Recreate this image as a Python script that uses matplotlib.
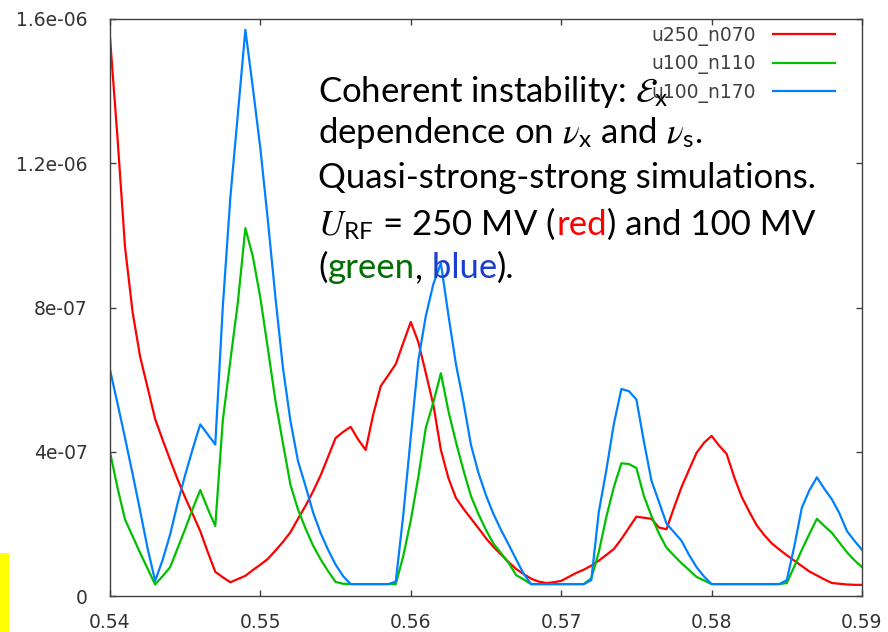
import matplotlib
matplotlib.use("Agg")
import matplotlib.pyplot as plt
from matplotlib.patches import Rectangle
import numpy as np

# horizontal tune scan, step 0.0005
nu_x = np.linspace(0.54, 0.59, 101)

# emittance growth, in units of 1e-7
u250_n070 = [15.48, 12.70, 9.67, 7.88, 6.64, 5.78, 4.91, 4.33, 3.77, 3.23,
             2.73, 2.27, 1.80, 1.22, 0.67, 0.52, 0.38, 0.47, 0.56, 0.72,
             0.87, 1.03, 1.26, 1.50, 1.77, 2.14, 2.50, 2.90, 3.34, 3.86,
             4.38, 4.55, 4.69, 4.34, 4.05, 5.03, 5.82, 6.12, 6.43, 7.02,
             7.60, 7.04, 6.18, 5.30, 4.05, 3.27, 2.72, 2.42, 2.15, 1.88,
             1.60, 1.36, 1.15, 0.94, 0.75, 0.61, 0.48, 0.40, 0.36, 0.38,
             0.42, 0.53, 0.64, 0.73, 0.84, 0.98, 1.14, 1.30, 1.58, 1.89,
             2.20, 2.17, 2.14, 1.90, 1.85, 2.45, 3.02, 3.50, 3.97, 4.25,
             4.44, 4.17, 3.94, 3.30, 2.75, 2.34, 1.96, 1.69, 1.46, 1.29,
             1.13, 0.98, 0.83, 0.68, 0.57, 0.46, 0.36, 0.34, 0.32, 0.31, 0.31]
u100_n110 = [3.99, 3.00, 2.12, 1.66, 1.20, 0.76, 0.32, 0.55, 0.80, 1.33,
             1.86, 2.42, 2.94, 2.42, 1.94, 4.87, 6.52, 8.14, 10.2, 9.41,
             8.26, 6.85, 5.41, 4.23, 3.08, 2.40, 1.87, 1.40, 1.02, 0.69,
             0.39, 0.34, 0.33, 0.33, 0.33, 0.33, 0.33, 0.33, 0.33, 1.11,
             2.10, 3.30, 4.67, 5.37, 6.18, 5.13, 4.27, 3.49, 2.77, 2.27,
             1.83, 1.45, 1.19, 0.92, 0.58, 0.46, 0.33, 0.33, 0.33, 0.33,
             0.33, 0.33, 0.33, 0.33, 0.49, 1.22, 2.19, 3.02, 3.68, 3.66,
             3.55, 2.77, 2.22, 1.73, 1.34, 1.12, 0.91, 0.72, 0.53, 0.43,
             0.33, 0.33, 0.33, 0.33, 0.33, 0.33, 0.33, 0.33, 0.33, 0.33,
             0.36, 0.82, 1.28, 1.72, 2.14, 1.94, 1.75, 1.48, 1.21, 0.99, 0.80]
u100_n170 = [6.27, 5.34, 4.38, 3.39, 2.37, 1.32, 0.42, 1.00, 1.71, 2.58,
             3.36, 4.08, 4.76, 4.48, 4.20, 8.02, 11.04, 13.36, 15.7, 14.09,
             12.40, 10.40, 8.28, 6.32, 4.85, 3.74, 3.05, 2.32, 1.75, 1.28,
             0.87, 0.55, 0.33, 0.33, 0.33, 0.33, 0.33, 0.33, 0.40, 2.25,
             4.42, 6.53, 7.77, 8.65, 9.23, 7.79, 6.43, 5.38, 4.19, 3.41,
             2.79, 2.27, 1.83, 1.43, 1.02, 0.62, 0.33, 0.33, 0.33, 0.33,
             0.33, 0.33, 0.33, 0.33, 0.44, 2.33, 3.49, 4.77, 5.74, 5.68,
             5.45, 4.28, 3.20, 2.61, 2.01, 1.77, 1.53, 1.14, 0.80, 0.54,
             0.33, 0.33, 0.33, 0.33, 0.33, 0.33, 0.33, 0.33, 0.33, 0.33,
             0.44, 1.38, 2.45, 2.93, 3.29, 2.97, 2.68, 2.29, 1.80, 1.53, 1.28]

series_names = ["u250_n070", "u100_n110", "u100_n170"]
series_colors = ["#ff0000", "#00c000", "#0080ff"]

x_ticks = [0.54, 0.55, 0.56, 0.57, 0.58, 0.59]
x_tick_labels = ["0.54", "0.55", "0.56", "0.57", "0.58", "0.59"]
y_ticks = [0, 4e-7, 8e-7, 1.2e-6, 1.6e-6]
y_tick_labels = ["0", "4e-07", "8e-07", "1.2e-06", "1.6e-06"]

plt.rcParams["mathtext.fontset"] = "stix"

fig = plt.figure(figsize=(8.88, 6.32), dpi=100)
ax = fig.add_axes([110 / 888, 36 / 632, 752 / 888, 577 / 632])

for name, vals, col in zip(series_names, [u250_n070, u100_n110, u100_n170], series_colors):
    ax.plot(nu_x, np.array(vals) * 1e-7, color=col, lw=1.6, label=name)

ax.set_xlim(0.54, 0.59)
ax.set_ylim(0, 1.6e-6)
ax.set_xticks(x_ticks)
ax.set_xticklabels(x_tick_labels)
ax.set_yticks(y_ticks)
ax.set_yticklabels(y_tick_labels)
ax.tick_params(direction="in", length=4, width=1, color="#404040",
               top=True, right=True, labelsize=13.5, labelcolor="#333333")
ax.tick_params(axis="x", pad=12)
ax.tick_params(axis="y", pad=16)
for sp in ax.spines.values():
    sp.set_color("#404040")
    sp.set_linewidth(1)

leg = ax.legend(loc="upper right", bbox_to_anchor=(835 / 888, 1 - 26 / 632),
                bbox_transform=fig.transFigure, frameon=False, markerfirst=False,
                fontsize=13.5, labelcolor="#404040", handlelength=3.3,
                handletextpad=0.9, labelspacing=0.45, borderpad=0, borderaxespad=0)

# annotation block, drawn piece by piece so words can carry their own colour
renderer = fig.canvas.get_renderer()
text_size = 25


def put_line(x, y_px, pieces):
    y = 1 - y_px / 632
    for s, c in pieces:
        t = fig.text(x, y, s, color=c, fontsize=text_size, family="Lato",
                     ha="left", va="baseline", zorder=5)
        x = t.get_window_extent(renderer=renderer).x1 / fig.bbox.width


x0 = 318 / 888
put_line(x0, 101.7, [("Coherent instability: $\\mathcal{E}_\\mathregular{x}$", "black")])
put_line(x0, 143.3, [("dependence on $\\nu_\\mathregular{x}$ and $\\nu_\\mathregular{s}$.", "black")])
put_line(x0, 188.3, [("Quasi-strong-strong simulations.", "black")])
put_line(x0, 235.0, [("$U_\\mathregular{RF}$ = 250 MV (", "black"), ("red", "#ff0000"),
                     (") and 100 MV", "black")])
put_line(x0, 278.3, [("(", "black"), ("green", "#006e00"), (",", "black"),
                     (" blue", "#1a3fd0"), (").", "black")])

# yellow marker strip at the lower left edge
fig.patches.append(Rectangle((0, 0), 9 / 888, 79 / 632, transform=fig.transFigure,
                             facecolor="#ffff00", edgecolor="none"))

fig.savefig("out.png", dpi=100)
